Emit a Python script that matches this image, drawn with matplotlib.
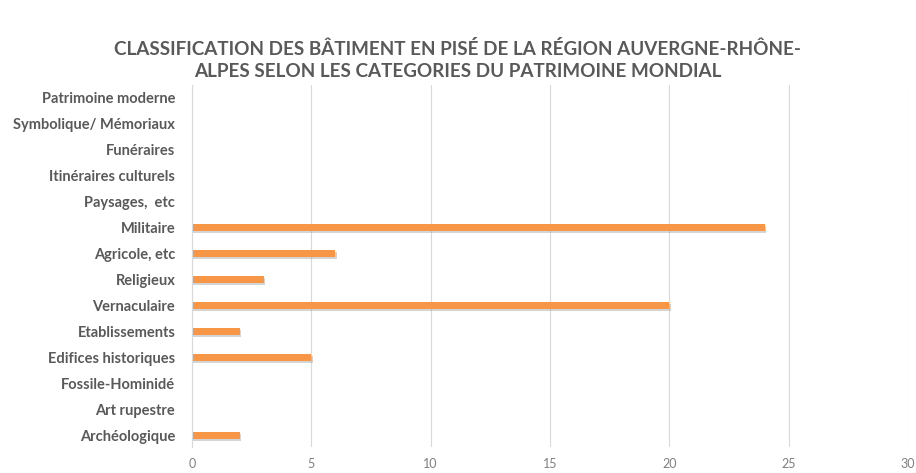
import matplotlib
matplotlib.use("Agg")
import matplotlib.pyplot as plt
import matplotlib.patheffects as pe

categories = [
    "Archéologique", "Art rupestre", "Fossile-Hominidé", "Edifices historiques",
    "Etablissements", "Vernaculaire", "Religieux", "Agricole, etc", "Militaire",
    "Paysages,  etc", "Itinéraires culturels", "Funéraires",
    "Symbolique/ Mémoriaux", "Patrimoine moderne",
]
counts = [2, 0, 0, 5, 2, 20, 3, 6, 24, 0, 0, 0, 0, 0]
xticks = [0, 5, 10, 15, 20, 25, 30]

plt.rcParams['font.family'] = ['Lato', 'DejaVu Sans']

fig = plt.figure(figsize=(9.16, 4.73), dpi=100)
ax = fig.add_axes([0.2096, 0.055, 0.7815, 0.765])

bars = ax.barh(range(len(categories)), counts, height=0.27, color="#F79646")
for b in bars:
    b.set_path_effects([pe.SimplePatchShadow(offset=(1, -2), shadow_rgbFace="#a0a0a0", alpha=0.45),
                        pe.Normal()])

ax.set_xlim(0, 30)
ax.set_ylim(-0.46, 13.46)
ax.set_xticks(xticks)
ax.set_yticks(range(len(categories)))
ax.set_yticklabels(categories, fontsize=10.5, fontweight="bold", color="#595959")
ax.tick_params(axis="x", labelsize=9, labelcolor="#7f7f7f", length=0, pad=8)
ax.tick_params(axis="y", length=0, pad=12)
ax.grid(axis="x", color="#d9d9d9", linewidth=0.8)
ax.set_axisbelow(True)
for s in ["top", "right", "bottom"]:
    ax.spines[s].set_visible(False)
ax.spines["left"].set_color("#d9d9d9")

fig.text(0.5, 0.874, "CLASSIFICATION DES BÂTIMENT EN PISÉ DE LA RÉGION AUVERGNE-RHÔNE-\nALPES SELON LES CATEGORIES DU PATRIMOINE MONDIAL",
         ha="center", va="center", fontsize=13.6, fontweight="bold", color="#595959", linespacing=1.35)

fig.savefig("out.png", dpi=100)
